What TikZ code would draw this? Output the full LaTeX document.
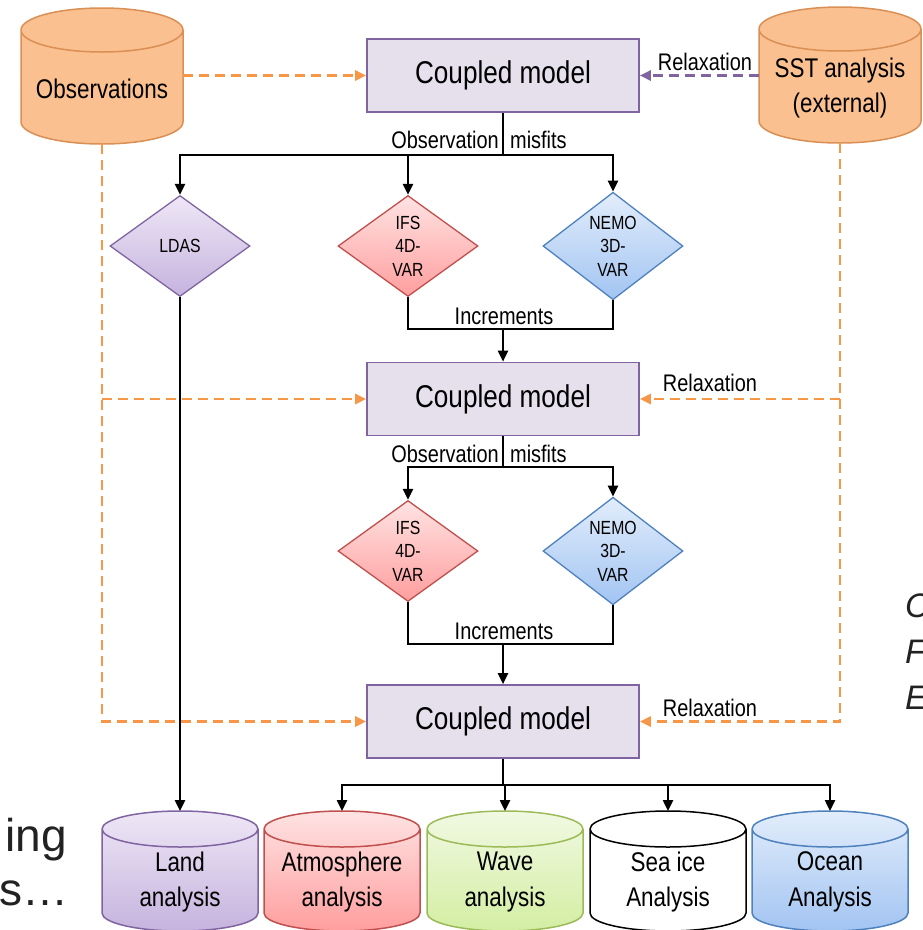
\documentclass[tikz,border=0pt]{standalone}
\usepackage{fontspec}
\setmainfont{Liberation Sans}[FakeStretch=0.83]
\newfontfamily\slidefont{Liberation Sans}
\usetikzlibrary{shapes.geometric,arrows.meta}

\definecolor{mpurple}{HTML}{8064A2}
\definecolor{mlav}{HTML}{E5E0EC}
\definecolor{obsfill}{HTML}{FAC090}
\definecolor{obsdraw}{HTML}{DA8F55}
\definecolor{dorange}{HTML}{F79646}
\definecolor{ldastop}{HTML}{EEE7F6}
\definecolor{ldasbot}{HTML}{C6B3DE}
\definecolor{ifstop}{HTML}{FFE3E3}
\definecolor{ifsbot}{HTML}{FF9E9E}
\definecolor{ifsdraw}{HTML}{C0504D}
\definecolor{nemotop}{HTML}{E2EDFB}
\definecolor{nemobot}{HTML}{A2C4F2}
\definecolor{nemodraw}{HTML}{4F81BD}
\definecolor{wavetop}{HTML}{F1F9E2}
\definecolor{wavebot}{HTML}{D3EEA3}
\definecolor{wavedraw}{HTML}{9BBB59}
\definecolor{slidetext}{HTML}{222222}

% cylinder: style, name, centre x, top y, width, height, cap, text
\newcommand{\drum}[8]{%
  \path[#1] ({#3-#5/2},{-#4-#7}) -- ({#3-#5/2},{-#4-#6+#7})
    arc[start angle=180,end angle=360,x radius=#5/2,y radius=#7]
    -- ({#3+#5/2},{-#4-#7})
    arc[start angle=0,end angle=180,x radius=#5/2,y radius=#7] -- cycle
    ({#3-#5/2},{-#4-#7}) arc[start angle=180,end angle=360,x radius=#5/2,y radius=#7];
  \node[drumtext] (#2) at (#3,{-#4-(#6+#7)/2-2}) {#8};
  \coordinate (#2-top) at (#3,-#4);
  \coordinate (#2-bot) at (#3,{-#4-#6});
  \coordinate (#2-east) at ({#3+#5/2},{-#4-#6/2});
  \coordinate (#2-west) at ({#3-#5/2},{-#4-#6/2});
}

\tikzset{
  drumtext/.style={align=center, inner sep=0pt, font=\fontsize{27}{35.5}\selectfont},
  obsdrum/.style={draw=obsdraw, fill=obsfill, line width=1.5pt},
  landdrum/.style={draw=mpurple, top color=ldastop, bottom color=ldasbot, line width=1.5pt},
  atmdrum/.style={draw=ifsdraw, top color=ifstop, bottom color=ifsbot, line width=1.5pt},
  wavedrum/.style={draw=wavedraw, top color=wavetop, bottom color=wavebot, line width=1.5pt},
  icedrum/.style={draw=black, fill=white, line width=1.5pt},
  oceandrum/.style={draw=nemodraw, top color=nemotop, bottom color=nemobot, line width=1.5pt},
}

\begin{document}
\begin{tikzpicture}[x=1pt,y=1pt,
    model/.style={draw=mpurple, fill=mlav, line width=1.6pt, minimum width=272pt,
      minimum height=73pt, font=\fontsize{31.5}{36}\selectfont},
    assim/.style={diamond, line width=1.3pt, minimum width=140pt, minimum height=101pt,
      inner sep=0pt, align=center, font=\fontsize{19}{23.5}\selectfont},
    ldas/.style={draw=mpurple, top color=ldastop, bottom color=ldasbot},
    ifs/.style={draw=ifsdraw, top color=ifstop, bottom color=ifsbot},
    nemo/.style={draw=nemodraw, top color=nemotop, bottom color=nemobot},
    tag/.style={inner sep=0pt, font=\fontsize{24}{28}\selectfont},
    link/.style={line width=2.4pt},
    flow/.style={line width=2.4pt, -{Triangle[length=11pt,width=10pt]}},
    obsline/.style={draw=dorange, line width=2.6pt, dash pattern=on 10pt off 6pt,
      -{Triangle[length=11pt,width=10pt]}},
    relaxline/.style={draw=mpurple, line width=2.6pt, dash pattern=on 10pt off 6pt,
      -{Triangle[length=11pt,width=10pt]}}]
  \clip (0,0) rectangle (922,-930);

  % data stores
  \drum{obsdrum}{obs}{102}{8}{162}{136}{22}{Observations}
  \drum{obsdrum}{sst}{840}{7}{162}{136}{22}{SST analysis\\(external)}
  \drum{landdrum}{land}{180}{811}{156}{120}{18}{Land\\analysis}
  \drum{atmdrum}{atm}{342}{811}{156}{120}{18}{Atmosphere\\analysis}
  \drum{wavedrum}{wave}{505}{811}{156}{120}{18}{Wave\\analysis}
  \drum{icedrum}{ice}{668}{811}{156}{120}{18}{Sea ice\\Analysis}
  \drum{oceandrum}{ocean}{830}{811}{156}{120}{18}{Ocean\\Analysis}

  % coupled model steps
  \node[model] (cm1) at (503,-75.5) {Coupled model};
  \node[model] (cm2) at (503,-399) {Coupled model};
  \node[model] (cm3) at (503,-721.5) {Coupled model};

  % assimilation
  \node[assim, ldas] (ldas) at (180,-246) {LDAS};
  \node[assim, ifs] (ifs1) at (408,-246) {IFS\\4D-\\VAR};
  \node[assim, nemo] (nemo1) at (613,-246) {NEMO\\3D-\\VAR};
  \node[assim, ifs] (ifs2) at (408,-551) {IFS\\4D-\\VAR};
  \node[assim, nemo] (nemo2) at (613,-551) {NEMO\\3D-\\VAR};

  % labels
  \node[tag, anchor=east] (mis1a) at (499,-140) {Observation};
  \node[tag, anchor=west] (mis1b) at (510,-140) {misfits};
  \node[tag, anchor=east] (mis2a) at (499,-454) {Observation};
  \node[tag, anchor=west] (mis2b) at (510,-454) {misfits};
  \node[tag] (inc1) at (504,-316) {Increments};
  \node[tag] (inc2) at (504,-631) {Increments};
  \node[tag] (relax1) at (705,-62) {Relaxation};
  \node[tag] (relax2) at (710,-383) {Relaxation};
  \node[tag] (relax3) at (710,-708) {Relaxation};

  % observations and relaxation
  \draw[obsline] (obs-bot) |- (cm3.west);
  \draw[obsline] (obs-bot |- cm2.west) -- (cm2.west);
  \draw[obsline] (obs-east |- cm1.west) -- (cm1.west);
  \draw[obsline] (sst-bot) |- (cm3.east);
  \draw[obsline] (sst-bot |- cm2.east) -- (cm2.east);
  \draw[relaxline] (sst-west |- cm1.east) -- (cm1.east);

  % first cycle
  \coordinate (split1) at (503,-155);
  \draw[link] (cm1.south) -- (split1);
  \draw[flow] (split1) -| (ldas.north);
  \draw[flow] (split1) -| (ifs1.north);
  \draw[flow] (split1) -| (nemo1.north);
  \coordinate (merge1) at (503,-329);
  \draw[link] (ifs1.south) |- (merge1) -| (nemo1.south);
  \draw[flow] (merge1) -- (cm2.north);
  \draw[flow] (ldas.south) -- (land-top);

  % second cycle
  \coordinate (split2) at (503,-467);
  \draw[link] (cm2.south) -- (split2);
  \draw[flow] (split2) -| (ifs2.north);
  \draw[flow] (split2) -| (nemo2.north);
  \coordinate (merge2) at (503,-644);
  \draw[link] (ifs2.south) |- (merge2) -| (nemo2.south);
  \draw[flow] (merge2) -- (cm3.north);

  % analyses
  \coordinate (fan) at (503,-785);
  \draw[link] (cm3.south) -- (fan);
  \draw[flow] (fan) -| (atm-top);
  \draw[flow] (fan) -| (wave-top);
  \draw[flow] (fan) -| (ice-top);
  \draw[flow] (fan) -| (ocean-top);

  % slide text cut by the frame
  \node[anchor=east, inner sep=0pt, text=slidetext, font=\slidefont\fontsize{46}{50}\selectfont] (left1) at (67,-840) {ing};
  \node[anchor=east, inner sep=0pt, text=slidetext, font=\slidefont\fontsize{46}{50}\selectfont] (left2) at (69,-893) {s…};
  \node[anchor=west, inner sep=0pt, text=slidetext, font=\slidefont\itshape\fontsize{34}{40}\selectfont] (right1) at (905,-606) {C};
  \node[anchor=west, inner sep=0pt, text=slidetext, font=\slidefont\itshape\fontsize{34}{40}\selectfont] (right2) at (905,-652) {F};
  \node[anchor=west, inner sep=0pt, text=slidetext, font=\slidefont\itshape\fontsize{34}{40}\selectfont] (right3) at (905,-698) {E};
\end{tikzpicture}
\end{document}
